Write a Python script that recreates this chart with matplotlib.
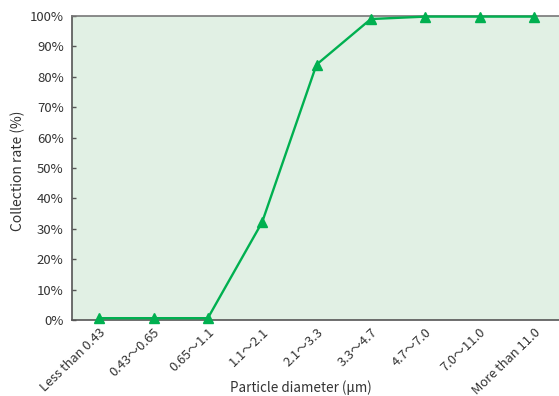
import matplotlib
matplotlib.use("Agg")
import matplotlib.pyplot as plt
from matplotlib.ticker import PercentFormatter

plt.rcParams['font.family'] = ['Noto Sans CJK JP', 'DejaVu Sans']

categories = ["Less than 0.43", "0.43〜0.65", "0.65〜1.1", "1.1〜2.1", "2.1〜3.3",
              "3.3〜4.7", "4.7〜7.0", "7.0〜11.0", "More than 11.0"]
rates = [0.6, 0.6, 0.6, 32.2, 84.0, 99.0, 99.8, 99.8, 99.8]
yticks = list(range(0, 101, 10))

fig = plt.figure(figsize=(5.59, 3.96), dpi=100)
ax = fig.add_axes([72/559, 76/396, 489/559, 304/396])
ax.set_facecolor('#e1f0e4')

x = list(range(len(categories)))
ax.plot(x, rates, color='#00b050', linewidth=1.7, marker='^', markersize=7,
        markerfacecolor='#00b050', markeredgecolor='#00b050', clip_on=False, zorder=3)

ax.set_xlim(-0.5, len(categories) - 0.5)
ax.set_ylim(0, 100)
ax.set_yticks(yticks)
ax.yaxis.set_major_formatter(PercentFormatter(decimals=0))
ax.set_xticks(x)
ax.set_xticklabels(categories, rotation=44, ha='right', rotation_mode='anchor')
ax.tick_params(axis='x', length=0, pad=4, labelsize=9.3, colors='#333333')
ax.tick_params(axis='y', direction='in', length=3, width=1, labelsize=9.5,
               colors='#555555', labelcolor='#333333', pad=6)

for side in ['left', 'bottom', 'top']:
    ax.spines[side].set_color('#555555')
    ax.spines[side].set_linewidth(1.2)
ax.spines['top'].set_color('#777777')
ax.spines['right'].set_visible(False)

ax.set_xlabel('Particle diameter (μm)', fontsize=9.7, color='#333333')
ax.xaxis.set_label_coords((301 - 72) / 489, -(388 - 320) / 304)
ax.xaxis.label.set_va('center')
ax.set_ylabel('Collection rate (%)', fontsize=10, color='#333333')
ax.yaxis.set_label_coords(-(72 - 18) / 489, 0.49)
ax.yaxis.label.set_va('center')

fig.savefig('out.png', dpi=100)
